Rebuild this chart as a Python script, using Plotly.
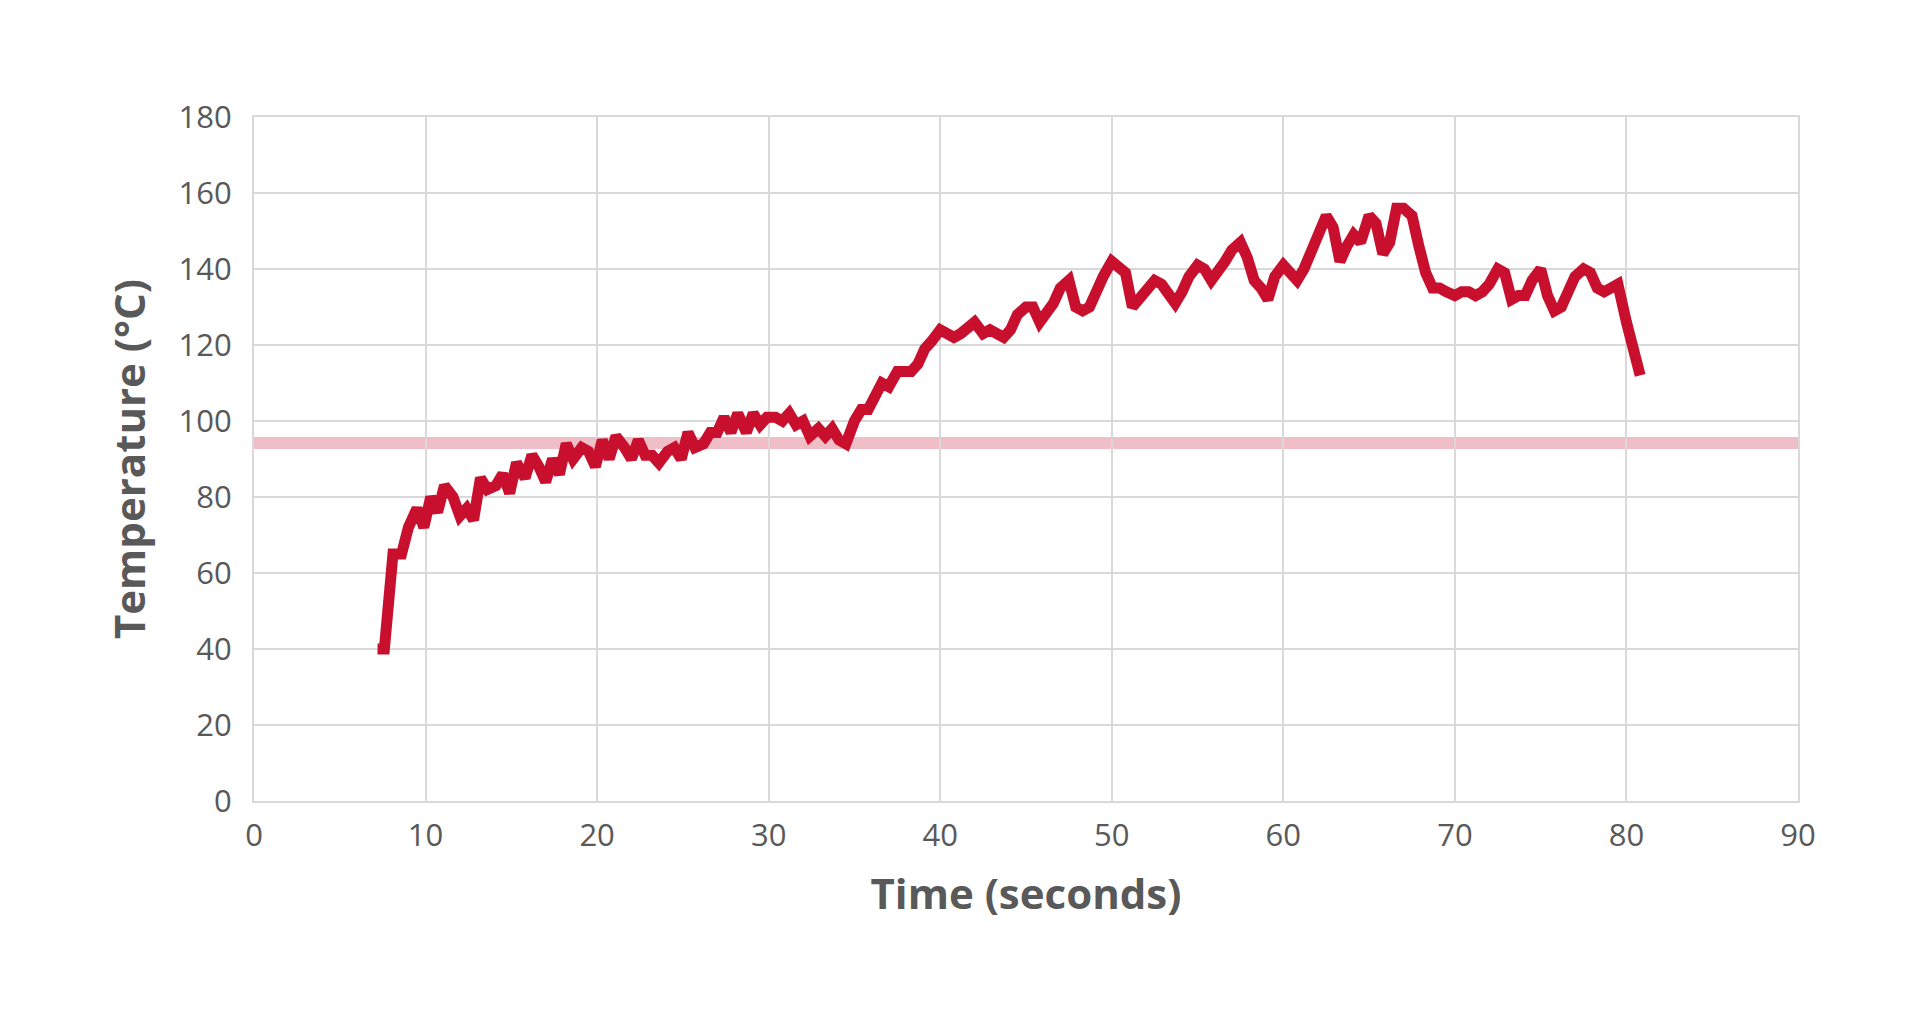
import plotly.graph_objects as go

time_s = [7.2, 7.6, 8.1, 8.6, 9.0, 9.5, 9.9, 10.3, 10.7, 11.1, 11.6, 12.0, 12.4, 12.8, 13.2, 13.6, 14.1, 14.5, 14.9,
          15.3, 15.8, 16.2, 16.6, 17.0, 17.4, 17.8, 18.2, 18.6, 19.1, 19.5, 19.9, 20.3, 20.7, 21.1, 21.6, 22.0, 22.4,
          22.8, 23.2, 23.6, 24.1, 24.5, 24.9, 25.3, 25.7, 26.2, 26.6, 27.0, 27.4, 27.8, 28.2, 28.7, 29.1, 29.5, 29.9,
          30.4, 30.8, 31.2, 31.6, 32.0, 32.4, 32.9, 33.3, 33.7, 34.1, 34.5, 35.0, 35.4, 35.8, 36.2, 36.6, 37.0, 37.5,
          37.9, 38.3, 38.7, 39.1, 39.5, 40.0, 40.4, 40.8, 41.2, 41.6, 42.0, 42.5, 42.9, 43.3, 43.7, 44.1, 44.5, 45.0,
          45.4, 45.8, 46.2, 46.6, 47.0, 47.5, 47.9, 48.3, 48.7, 49.1, 49.5, 50.0, 50.4, 50.8, 51.2, 51.6, 52.0, 52.5,
          52.9, 53.3, 53.7, 54.1, 54.5, 55.0, 55.4, 55.8, 56.2, 56.6, 57.0, 57.5, 57.9, 58.3, 58.7, 59.1, 59.5, 60.0,
          60.4, 60.8, 61.2, 61.6, 62.0, 62.5, 62.9, 63.3, 63.7, 64.1, 64.5, 65.0, 65.4, 65.8, 66.2, 66.6, 67.0, 67.5,
          67.9, 68.3, 68.7, 69.1, 69.5, 70.0, 70.4, 70.8, 71.2, 71.6, 72.0, 72.5, 72.9, 73.3, 73.7, 74.1, 74.5, 75.0,
          75.4, 75.8, 76.2, 76.6, 77.0, 77.5, 77.9, 78.3, 78.7, 79.1, 79.5, 80.0, 80.4, 80.8]
temp_c = [40, 40, 65, 65, 72, 77, 72, 80, 76, 83, 80, 75, 77, 74, 85, 82, 83, 86, 81,
          89, 85, 91, 88, 84, 90, 86, 94, 90, 93, 92, 88, 95, 90, 96, 93, 90, 95,
          91, 91, 89, 92, 93, 90, 97, 93, 94, 97, 97, 101, 97, 102, 97, 102, 99, 101,
          101, 100, 102, 99, 100, 96, 98, 96, 98, 95, 94, 100, 103, 103, 106, 110, 109, 113,
          113, 113, 115, 119, 121, 124, 123, 122, 123, 125, 126, 123, 124, 123, 122, 124, 128, 130,
          130, 126, 128, 131, 135, 137, 130, 129, 130, 135, 138, 142, 140, 139, 130, 132, 134, 137,
          136, 133, 131, 134, 138, 141, 140, 137, 139, 142, 145, 147, 143, 137, 135, 132, 138, 141,
          139, 137, 140, 144, 148, 154, 151, 142, 146, 149, 147, 154, 152, 144, 147, 156, 156, 154,
          146, 139, 135, 135, 134, 133, 134, 134, 133, 134, 136, 140, 139, 132, 133, 133, 137, 140,
          133, 129, 130, 135, 138, 140, 139, 135, 134, 135, 136, 126, 118, 112]
threshold = 94.2

fig = go.Figure()
fig.add_shape(type="rect", xref="paper", x0=0, x1=1, y0=threshold - 1.6, y1=threshold + 1.6,
              fillcolor="rgba(200,16,46,0.27)", line_width=0, layer="below")
fig.add_trace(go.Scatter(x=time_s, y=temp_c, mode="lines",
                         line=dict(color="#C8102E", width=11), showlegend=False))

font_family = "Open Sans, Lato, sans-serif"
axis_font = dict(family=font_family, size=31, color="#595959")
title_font = dict(family=font_family, size=42, color="#595959")
fig.update_layout(
    width=1920, height=1029,
    plot_bgcolor="white", paper_bgcolor="white",
    margin=dict(l=246, r=130, t=109, b=236),
    xaxis=dict(range=[0, 90], dtick=10, showgrid=True, gridcolor="#d9d9d9", gridwidth=2,
               showline=True, linecolor="#d9d9d9", linewidth=2, mirror=True, zeroline=False,
               tickfont=axis_font, ticks="outside", tickcolor="white", ticklen=6,
               title=dict(text="<b>Time (seconds)</b>", font=title_font, standoff=25)),
    yaxis=dict(range=[0, 180], dtick=20, showgrid=True, gridcolor="#d9d9d9", gridwidth=2,
               showline=True, linecolor="#d9d9d9", linewidth=2, mirror=True, zeroline=False,
               tickfont=axis_font, ticks="outside", tickcolor="white", ticklen=14,
               title=dict(text="<b>Temperature (°C)</b>", font=title_font, standoff=20)),
)

fig.write_html("out.html")
